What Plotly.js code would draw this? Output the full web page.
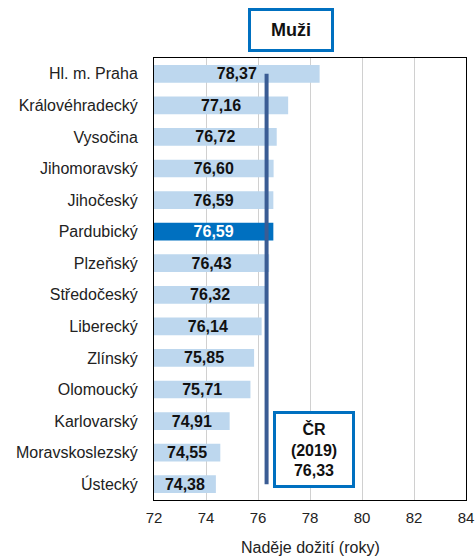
<!DOCTYPE html>
<html><head><meta charset="utf-8">
<script src="https://cdn.plot.ly/plotly-3.0.1.min.js"></script>
<style>html,body{margin:0;padding:0;background:#fff}#c{width:476px;height:556px}</style>
</head><body><div id="c"></div>
<script>
const regions = ["Hl. m. Praha","Královéhradecký","Vysočina","Jihomoravský","Jihočeský","Pardubický","Plzeňský","Středočeský","Liberecký","Zlínský","Olomoucký","Karlovarský","Moravskoslezský","Ústecký"];
const values = [78.37,77.16,76.72,76.60,76.59,76.59,76.43,76.32,76.14,75.85,75.71,74.91,74.55,74.38];
const highlight = "Pardubický";
const czAverage = 76.33;
const czLabel = "ČR<br>(2019)<br>76,33";
const xTicks = [72,74,76,78,80,82,84];

const FONT = "Liberation Sans, Arial, sans-serif";
const barColors = regions.map(r => r === highlight ? "#0070C0" : "#BDD7EE");
const textColors = regions.map(r => r === highlight ? "#FFFFFF" : "#111111");

const bars = {
  type: "bar", orientation: "h",
  y: regions, x: values.map(v => v - 72), base: 72,
  customdata: values,
  marker: {color: barColors},
  width: 0.56,
  texttemplate: "<b>%{customdata:.2f}</b>",
  textposition: "inside", insidetextanchor: "middle", textangle: 0,
  constraintext: "none",
  textfont: {family: FONT, size: 16, color: textColors},
  hoverinfo: "skip", showlegend: false, cliponaxis: false
};
const avgLine = {
  type: "scatter", mode: "lines",
  x: [czAverage, czAverage], y: [regions[0], regions[regions.length-1]],
  line: {color: "#3A5C94", width: 4},
  hoverinfo: "skip", showlegend: false
};

const layout = {
  width: 476, height: 556,
  margin: {l: 154, r: 10, t: 58, b: 56},
  paper_bgcolor: "#fff", plot_bgcolor: "#fff",
  separators: ",.",
  showlegend: false,
  font: {family: FONT, size: 15, color: "#222"},
  bargap: 0.44,
  xaxis: {
    range: [72, 84], tickvals: xTicks, ticktext: xTicks.map(String), automargin: false,
    showgrid: true, gridcolor: "#D0D0D0", gridwidth: 1,
    zeroline: false, showline: true, linecolor: "#000", linewidth: 1, mirror: true,
    ticks: "", tickfont: {family: FONT, size: 15, color: "#222"}, ticklabelstandoff: 4
  },
  yaxis: {
    range: [regions.length - 0.5, -0.5], showgrid: false, zeroline: false, automargin: false,
    showline: true, linecolor: "#000", linewidth: 1, mirror: true,
    ticks: "", ticklabelstandoff: 12,
    tickfont: {family: FONT, size: 16, color: "#222"}
  },
  annotations: [
    {xref: "paper", yref: "paper", x: 0.5, y: -0.107, xanchor: "center", yanchor: "middle",
     text: "Naděje dožití (roky)", showarrow: false, font: {family: FONT, size: 16, color: "#222"}},
    {xref: "paper", yref: "paper", x: 0.4407, y: 1.063, xanchor: "center", yanchor: "middle",
     text: "<b>Muži</b>", showarrow: false, font: {family: FONT, size: 18, color: "#111"},
     bordercolor: "#0070C0", borderwidth: 3, borderpad: 2, width: 76, height: 34, bgcolor: "#fff"},
    {xref: "x", yref: "paper", x: 78.17, y: 0.114, xanchor: "center", yanchor: "middle",
     text: "<b>" + czLabel + "</b>", showarrow: false, font: {family: FONT, size: 16, color: "#111"},
     bordercolor: "#0070C0", borderwidth: 3, borderpad: 2, width: 72, height: 67, bgcolor: "#fff"}
  ]
};
Plotly.newPlot("c", [bars, avgLine], layout, {displayModeBar: false, staticPlot: true});
</script></body></html>
